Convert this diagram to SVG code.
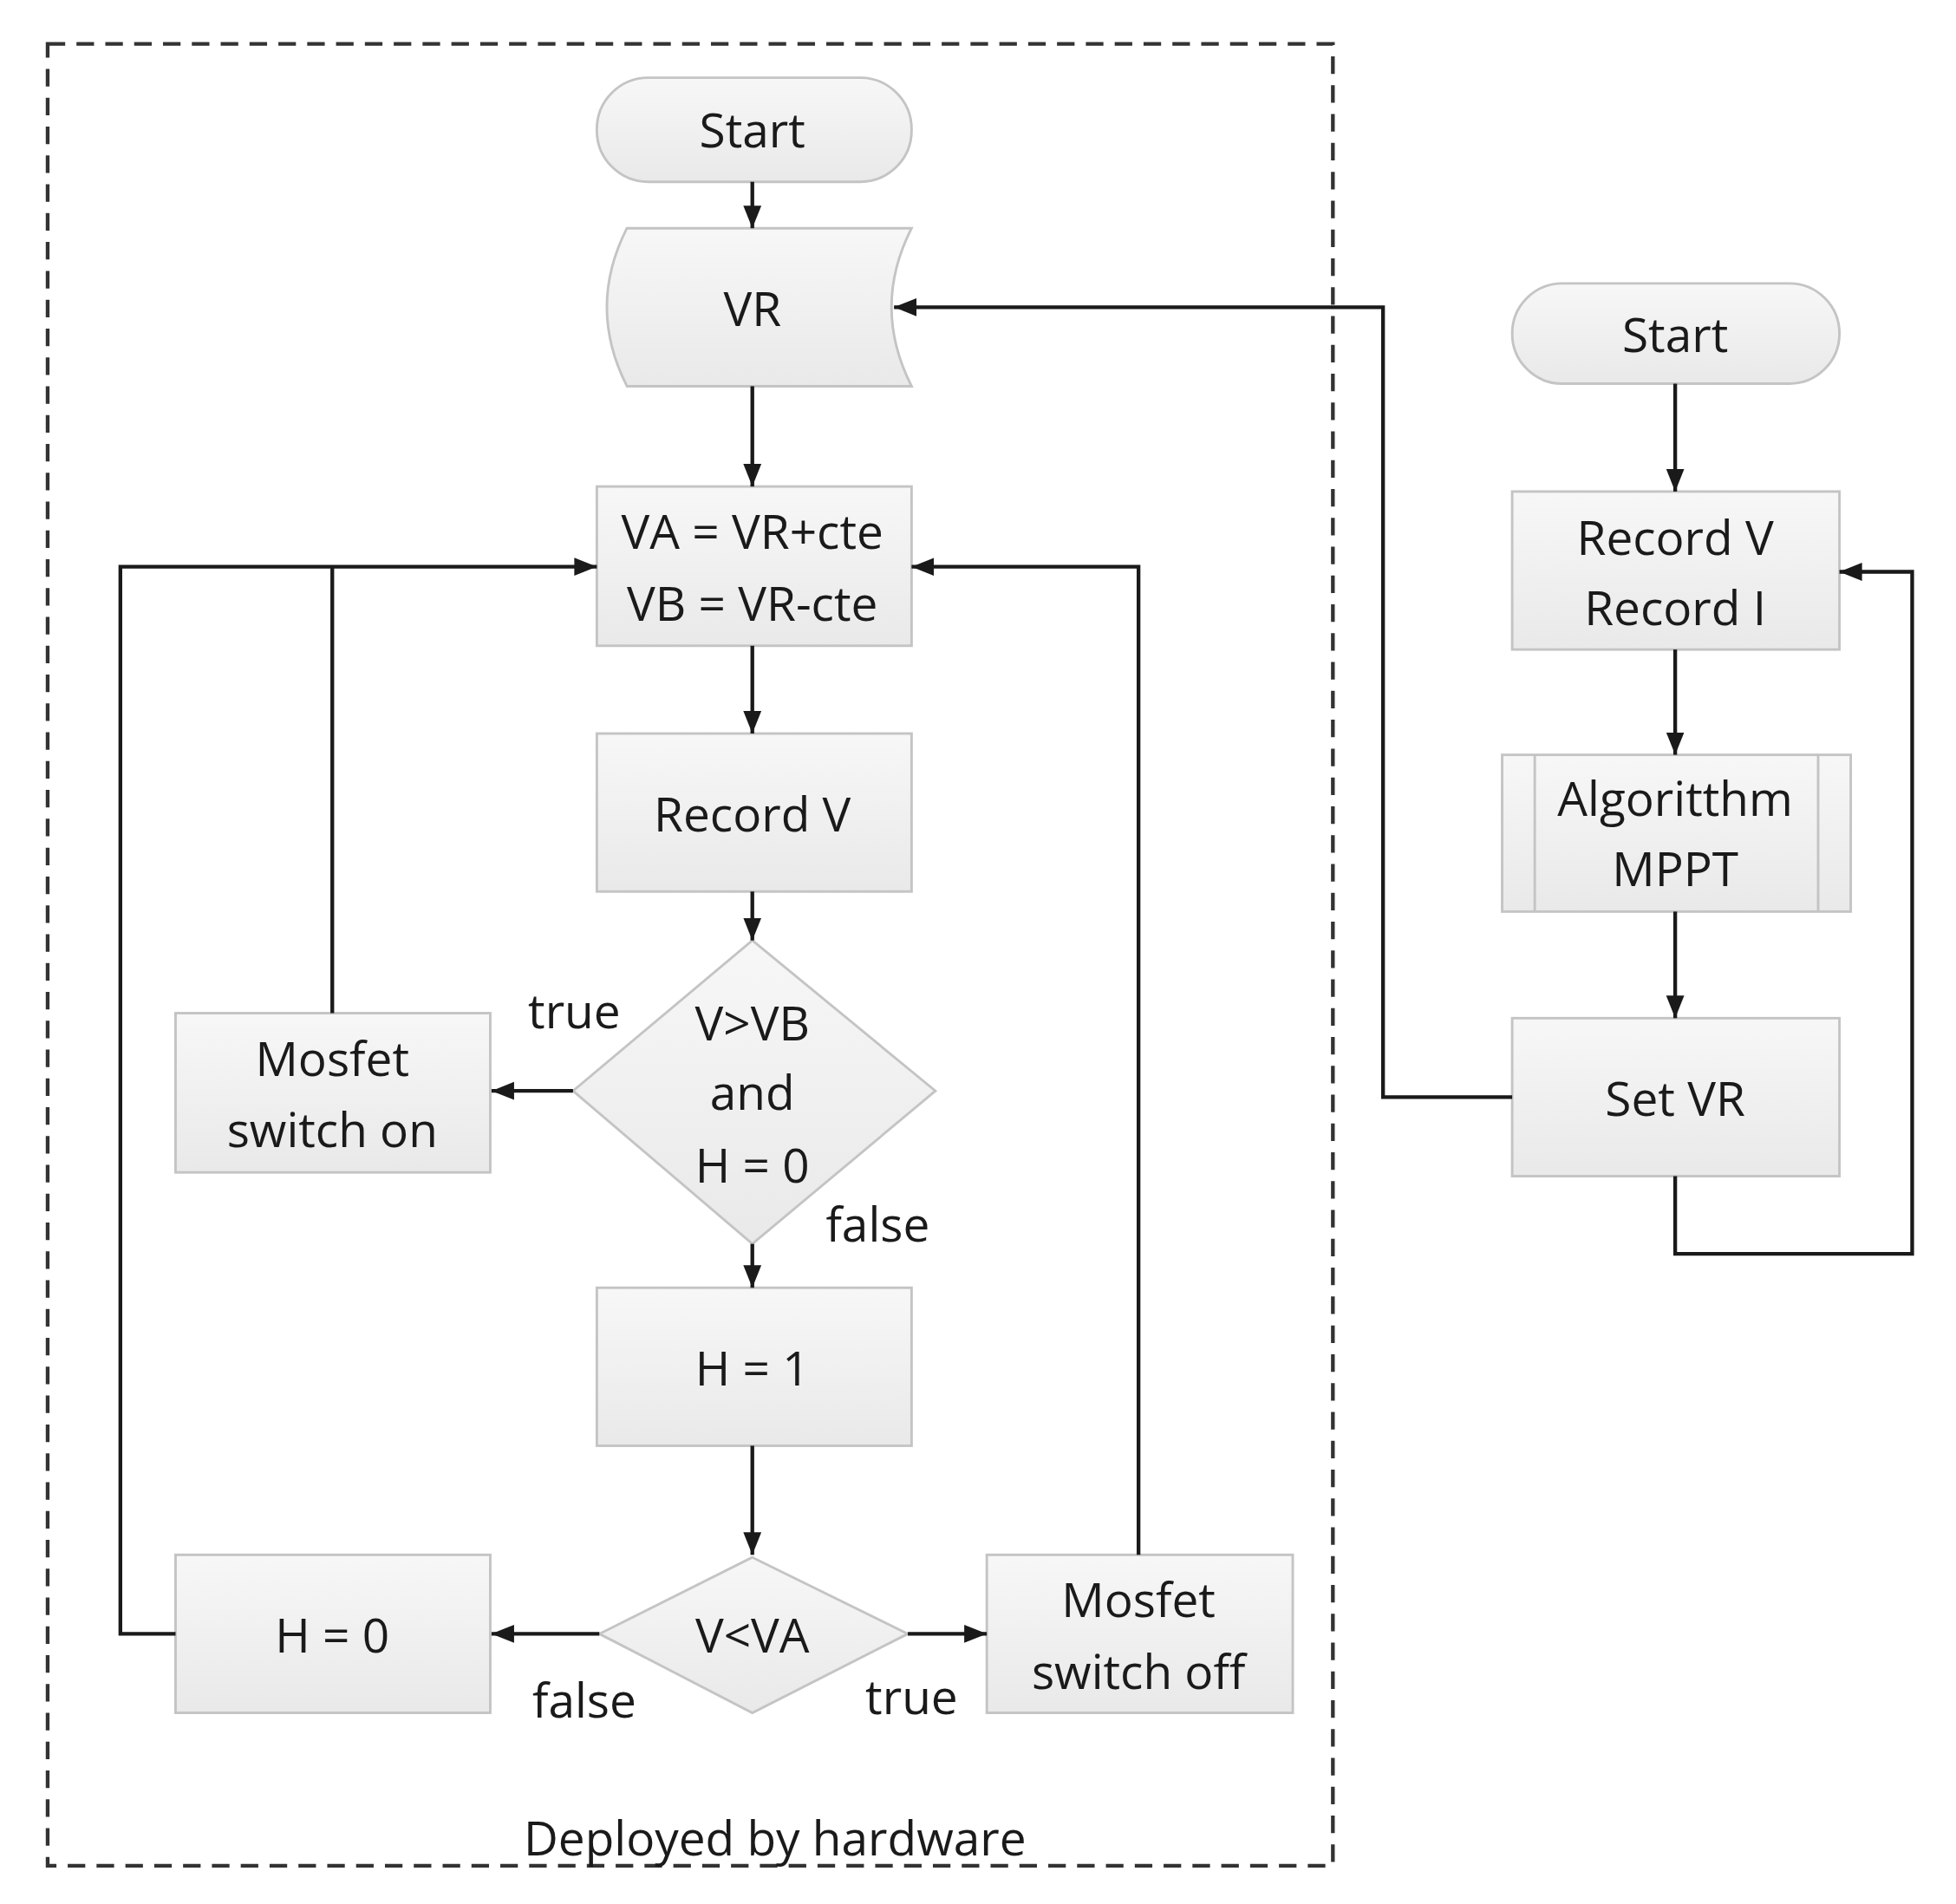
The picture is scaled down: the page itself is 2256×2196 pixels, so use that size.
<svg xmlns="http://www.w3.org/2000/svg" width="2256" height="2196" viewBox="0 0 2256 2196">
<defs>
<linearGradient id="g" x1="0" y1="0" x2="0" y2="1"><stop offset="0" stop-color="#f7f7f7"/><stop offset="1" stop-color="#e9e9e9"/></linearGradient>
<marker id="b" viewBox="0 0 10 10" refX="10" refY="5" markerWidth="18" markerHeight="18" markerUnits="userSpaceOnUse" orient="auto"><path d="M0,1 L10,5 L0,9 z" fill="#1a1a1a"/></marker>
<style>
.n{fill:url(#g);stroke:#c4c4c4;stroke-width:2}
.t{font-family:"Open Sans","Liberation Sans",sans-serif;font-size:38px;fill:#1a1a1a;text-anchor:middle;dominant-baseline:central}
.c{fill:none;stroke:#1a1a1a;stroke-width:3}
</style>
</defs>
<rect width="2256" height="2196" fill="#fff"/>
<g transform="scale(1.4462)">
<rect id="border" x="38" y="35" width="1025" height="1453" fill="none" stroke="#333" stroke-width="3" stroke-dasharray="14,9"/>
<g id="start1"><rect class="n" x="476" y="62" width="251" height="83" rx="41"/><text class="t" x="600" y="103">Start</text></g>
<g id="vr"><path class="n" d="M500,182 L727,182 Q695,245 727,308 L500,308 Q468,245 500,182 z"/><text class="t" x="600" y="245">VR</text></g>
<g id="vavb"><rect class="n" x="476" y="388" width="251" height="127"/><text class="t" x="600" y="423">VA = VR+cte</text><text class="t" x="600" y="480">VB = VR-cte</text></g>
<g id="recv"><rect class="n" x="476" y="585" width="251" height="126"/><text class="t" x="600" y="648">Record V</text></g>
<g id="d1"><path class="n" d="M600,750 L746,870 L600,992 L457,870 z"/><text class="t" x="600" y="815">V&gt;VB</text><text class="t" x="600" y="870">and</text><text class="t" x="600" y="928">H = 0</text></g>
<g id="mon"><rect class="n" x="140" y="808" width="251" height="127"/><text class="t" x="265" y="843">Mosfet</text><text class="t" x="265" y="900">switch on</text></g>
<g id="h1"><rect class="n" x="476" y="1027" width="251" height="126"/><text class="t" x="600" y="1090">H = 1</text></g>
<g id="d2"><path class="n" d="M600,1242 L724,1303 L600,1366 L478,1303 z"/><text class="t" x="600" y="1303">V&lt;VA</text></g>
<g id="h0"><rect class="n" x="140" y="1240" width="251" height="126"/><text class="t" x="265" y="1303">H = 0</text></g>
<g id="moff"><rect class="n" x="787" y="1240" width="244" height="126"/><text class="t" x="908" y="1275">Mosfet</text><text class="t" x="908" y="1332">switch off</text></g>
<g id="start2"><rect class="n" x="1206" y="226" width="261" height="80" rx="40"/><text class="t" x="1336" y="266">Start</text></g>
<g id="reci"><rect class="n" x="1206" y="392" width="261" height="126"/><text class="t" x="1336" y="428">Record V</text><text class="t" x="1336" y="484">Record I</text></g>
<g id="algo"><rect class="n" x="1198" y="602" width="278" height="125"/><line x1="1224" y1="602" x2="1224" y2="727" stroke="#c4c4c4" stroke-width="2"/><line x1="1450" y1="602" x2="1450" y2="727" stroke="#c4c4c4" stroke-width="2"/><text class="t" x="1336" y="636">Algoritthm</text><text class="t" x="1336" y="692">MPPT</text></g>
<g id="setvr"><rect class="n" x="1206" y="812" width="261" height="126"/><text class="t" x="1336" y="875">Set  VR</text></g>
<g id="labels">
<text class="t" x="458" y="805">true</text><text class="t" x="700" y="975">false</text>
<text class="t" x="466" y="1355">false</text><text class="t" x="727" y="1352">true</text>
<text class="t" x="618" y="1465">Deployed by hardware</text>
</g>
<g id="connectors">
<path class="c" d="M600,145 L600,182" marker-end="url(#b)"/>
<path class="c" d="M600,308 L600,388" marker-end="url(#b)"/>
<path class="c" d="M600,515 L600,585" marker-end="url(#b)"/>
<path class="c" d="M600,711 L600,750" marker-end="url(#b)"/>
<path class="c" d="M457,870 L392,870" marker-end="url(#b)"/>
<path class="c" d="M265,808 L265,452"/>
<path class="c" d="M600,992 L600,1027" marker-end="url(#b)"/>
<path class="c" d="M600,1153 L600,1240" marker-end="url(#b)"/>
<path class="c" d="M478,1303 L392,1303" marker-end="url(#b)"/>
<path class="c" d="M140,1303 L96,1303 L96,452 L476,452" marker-end="url(#b)"/>
<path class="c" d="M724,1303 L787,1303" marker-end="url(#b)"/>
<path class="c" d="M908,1240 L908,452 L727,452" marker-end="url(#b)"/>
<path class="c" d="M1336,306 L1336,392" marker-end="url(#b)"/>
<path class="c" d="M1336,518 L1336,602" marker-end="url(#b)"/>
<path class="c" d="M1336,727 L1336,812" marker-end="url(#b)"/>
<path class="c" d="M1206,875 L1103,875 L1103,245 L713,245" marker-end="url(#b)"/>
<path class="c" d="M1336,938 L1336,1000 L1525,1000 L1525,456 L1467,456" marker-end="url(#b)"/>
</g>
</g>
</svg>
